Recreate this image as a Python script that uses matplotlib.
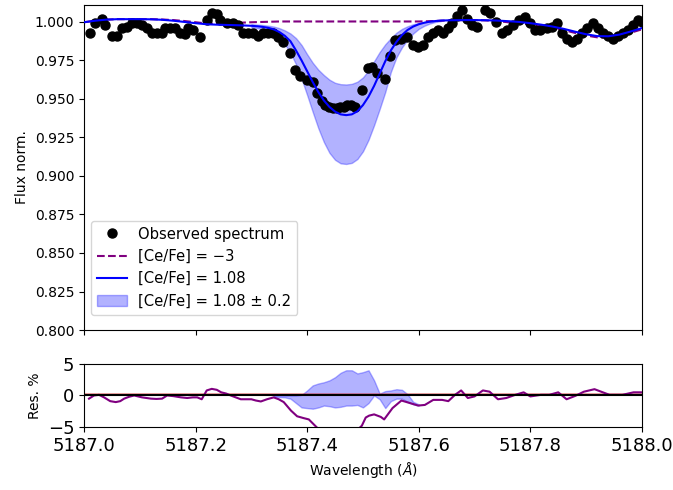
import numpy as np
import matplotlib
matplotlib.use('Agg')
import matplotlib.pyplot as plt

# observed spectrum
obs_wave = [5187.011, 5187.020, 5187.032, 5187.038, 5187.050, 5187.059, 5187.068, 5187.077,
            5187.086, 5187.095, 5187.104, 5187.113, 5187.122, 5187.131, 5187.140, 5187.145,
            5187.154, 5187.163, 5187.172, 5187.181, 5187.186, 5187.195, 5187.208, 5187.220,
            5187.229, 5187.238, 5187.244, 5187.256, 5187.267, 5187.276, 5187.285, 5187.294,
            5187.303, 5187.312, 5187.321, 5187.330, 5187.339, 5187.348, 5187.357, 5187.369,
            5187.378, 5187.387, 5187.400, 5187.410, 5187.418, 5187.427, 5187.432, 5187.440,
            5187.446, 5187.453, 5187.459, 5187.466, 5187.471, 5187.478, 5187.486, 5187.498,
            5187.509, 5187.516, 5187.525, 5187.539, 5187.548, 5187.557, 5187.568, 5187.579,
            5187.590, 5187.599, 5187.608, 5187.616, 5187.625, 5187.634, 5187.643, 5187.652,
            5187.659, 5187.668, 5187.677, 5187.686, 5187.695, 5187.704, 5187.719, 5187.728,
            5187.738, 5187.749, 5187.758, 5187.769, 5187.780, 5187.790, 5187.799, 5187.808,
            5187.817, 5187.830, 5187.839, 5187.848, 5187.857, 5187.866, 5187.875, 5187.884,
            5187.892, 5187.901, 5187.912, 5187.921, 5187.930, 5187.939, 5187.948, 5187.957,
            5187.966, 5187.975, 5187.984, 5187.993, 5188.000]
obs_flux = [0.9927, 0.999, 1.002, 0.998, 0.991, 0.991, 0.996, 0.9966,
            0.999, 0.999, 0.998, 0.996, 0.993, 0.993, 0.993, 0.996,
            0.996, 0.996, 0.993, 0.992, 0.996, 0.995, 0.990, 1.001,
            1.006, 1.005, 1.001, 0.999, 0.999, 0.998, 0.993, 0.993,
            0.993, 0.991, 0.993, 0.993, 0.993, 0.990, 0.987, 0.980,
            0.969, 0.965, 0.962, 0.961, 0.954, 0.949, 0.946, 0.945,
            0.944, 0.944, 0.945, 0.945, 0.946, 0.946, 0.945, 0.956,
            0.970, 0.971, 0.967, 0.963, 0.978, 0.988, 0.989, 0.990,
            0.985, 0.984, 0.985, 0.990, 0.993, 0.995, 0.993, 0.996,
            0.999, 1.004, 1.0076, 1.002, 0.998, 0.997, 1.0076, 1.0056,
            1.000, 0.993, 0.9946, 0.998, 1.001, 1.003, 0.999, 0.9946,
            0.9946, 0.996, 0.9966, 0.999, 0.993, 0.989, 0.987, 0.989,
            0.993, 0.996, 0.999, 0.996, 0.993, 0.991, 0.989, 0.991,
            0.993, 0.9946, 0.998, 1.001, 1.000]

# synthetic spectra
model_wave = [5187.00, 5187.02, 5187.04, 5187.06, 5187.08, 5187.10, 5187.12, 5187.14,
              5187.16, 5187.18, 5187.20, 5187.22, 5187.24, 5187.26, 5187.28,
              5187.30, 5187.31, 5187.32, 5187.33, 5187.34, 5187.35, 5187.36, 5187.37,
              5187.38, 5187.39, 5187.40, 5187.41, 5187.42, 5187.43, 5187.44, 5187.45,
              5187.46, 5187.47, 5187.48, 5187.49, 5187.50, 5187.51, 5187.52, 5187.53,
              5187.54, 5187.55, 5187.56, 5187.57, 5187.58, 5187.59, 5187.60, 5187.61,
              5187.62, 5187.63, 5187.64,
              5187.66, 5187.68, 5187.70, 5187.72, 5187.74, 5187.76, 5187.78, 5187.80,
              5187.82, 5187.84, 5187.86, 5187.88, 5187.90, 5187.92, 5187.94, 5187.96,
              5187.98, 5188.00]
flux_ce_m3 = [0.9998, 1.0008, 1.0015, 1.0018, 1.0018, 1.0018, 1.0018, 1.0016,
              1.0012, 1.0006, 0.9998, 0.9990, 0.9988, 0.9990, 0.9995,
              0.9998, 0.9999, 1.0000, 1.0001, 1.0002, 1.0003, 1.0003, 1.0003,
              1.0003, 1.0003, 1.0003, 1.0003, 1.0003, 1.0003, 1.0003, 1.0003,
              1.0003, 1.0003, 1.0003, 1.0003, 1.0003, 1.0003, 1.0003, 1.0003,
              1.0003, 1.0003, 1.0003, 1.0003, 1.0003, 1.0003, 1.0003, 1.0004,
              1.0005, 1.0006, 1.0008,
              1.0010, 1.0012, 1.0012, 1.0010, 1.0006, 0.9998, 0.9992, 0.9984,
              0.9974, 0.9962, 0.9947, 0.9929, 0.9912, 0.9900, 0.9899, 0.9910,
              0.9930, 0.9952]
flux_best = [0.9998, 1.0008, 1.0015, 1.0018, 1.0018, 1.0018, 1.0017, 1.0014,
             1.0008, 1.0000, 0.9992, 0.9985, 0.9982, 0.9980, 0.9978,
             0.9975, 0.9972, 0.9968, 0.9962, 0.9952, 0.9935, 0.9910, 0.9875,
             0.9815, 0.9750, 0.9680, 0.9610, 0.9545, 0.9490, 0.9448, 0.9418,
             0.9400, 0.9395, 0.9400, 0.9420, 0.9460, 0.9515, 0.9585, 0.9665,
             0.9745, 0.9815, 0.9870, 0.9915, 0.9948, 0.9970, 0.9985, 0.9995,
             1.0002, 1.0006, 1.0009,
             1.0011, 1.0012, 1.0012, 1.0011, 1.0009, 1.0005, 1.0000, 0.9992,
             0.9982, 0.9970, 0.9955, 0.9937, 0.9920, 0.9908, 0.9907, 0.9918,
             0.9938, 0.9960]

# band [Ce/Fe] = 1.08 +/- 0.2
band_wave = [5187.30, 5187.31, 5187.32, 5187.33, 5187.34, 5187.35, 5187.36, 5187.37,
             5187.38, 5187.39, 5187.40, 5187.41, 5187.42, 5187.43, 5187.44, 5187.45,
             5187.46, 5187.47, 5187.48, 5187.49, 5187.50, 5187.51, 5187.52, 5187.53,
             5187.54, 5187.55, 5187.56, 5187.57, 5187.58, 5187.59, 5187.60, 5187.61,
             5187.62, 5187.63, 5187.64]
band_hi = [0.9985, 0.9983, 0.9980, 0.9976, 0.9970, 0.9960, 0.9945, 0.9925,
           0.9895, 0.9850, 0.9790, 0.9735, 0.9690, 0.9655, 0.9625, 0.9605,
           0.9596, 0.9594, 0.9598, 0.9612, 0.9640, 0.9685, 0.9745, 0.9805,
           0.9855, 0.9895, 0.9930, 0.9955, 0.9972, 0.9985, 0.9993, 0.9999,
           1.0003, 1.0006, 1.0009]
band_lo = [0.9965, 0.9960, 0.9952, 0.9940, 0.9922, 0.9895, 0.9855, 0.9800,
           0.9725, 0.9630, 0.9525, 0.9415, 0.9310, 0.9220, 0.9150, 0.9105,
           0.9082, 0.9078, 0.9085, 0.9110, 0.9160, 0.9235, 0.9330, 0.9435,
           0.9545, 0.9675, 0.9770, 0.9835, 0.9885, 0.9925, 0.9955, 0.9975,
           0.9990, 1.0000, 1.0006]

# residuals (%)
res_wave = [5187.009, 5187.018, 5187.027, 5187.036, 5187.047, 5187.057, 5187.065, 5187.072,
            5187.081, 5187.090, 5187.104, 5187.120, 5187.130, 5187.140, 5187.149, 5187.160,
            5187.174, 5187.185, 5187.195, 5187.203, 5187.211, 5187.220, 5187.229, 5187.238,
            5187.246, 5187.255, 5187.263, 5187.272, 5187.281, 5187.290, 5187.300, 5187.308,
            5187.317, 5187.328, 5187.340, 5187.349, 5187.358, 5187.371, 5187.382, 5187.394,
            5187.403, 5187.412, 5187.420, 5187.440, 5187.460, 5187.480, 5187.492, 5187.498,
            5187.505, 5187.511, 5187.520, 5187.532, 5187.538, 5187.553, 5187.569, 5187.584,
            5187.599, 5187.611, 5187.626, 5187.642, 5187.653, 5187.665, 5187.676, 5187.688,
            5187.700, 5187.715, 5187.727, 5187.742, 5187.757, 5187.773, 5187.788, 5187.800,
            5187.819, 5187.834, 5187.850, 5187.865, 5187.881, 5187.896, 5187.915, 5187.927,
            5187.942, 5187.965, 5187.985, 5188.000]
res_ce_m3 = [-0.5, 0.0, 0.1, -0.3, -0.9, -1.05, -0.9, -0.5,
             -0.2, 0.0, -0.3, -0.5, -0.55, -0.5, 0.0, -0.1,
             -0.3, -0.4, -0.3, -0.3, -0.6, 0.8, 1.05, 0.9,
             0.5, 0.3, 0.0, -0.3, -0.6, -0.6, -0.6, -0.8,
             -0.95, -0.6, -0.3, -0.6, -1.05, -2.4, -3.3, -3.6,
             -3.8, -4.6, -5.3, -5.6, -5.5, -5.4, -5.3, -4.8,
             -3.5, -3.2, -3.0, -3.4, -3.8, -2.0, -0.8, -1.2,
             -1.6, -1.5, -0.7, -0.7, -0.9, 0.1, 0.8, -0.4,
             -0.15, 0.8, 0.6, -0.6, -0.4, 0.1, 0.5, -0.15,
             0.1, 0.1, 0.5, -0.6, -0.05, 0.6, 1.0, 0.6,
             0.1, 0.1, 0.5, 0.5]

res_band_wave = [5187.34, 5187.36, 5187.37, 5187.38, 5187.39, 5187.40, 5187.41, 5187.42,
                 5187.43, 5187.44, 5187.45, 5187.46, 5187.47, 5187.48, 5187.49, 5187.50,
                 5187.51, 5187.52, 5187.53, 5187.54, 5187.55, 5187.56, 5187.57, 5187.58,
                 5187.59, 5187.60]
res_band_lo = [-0.2, -0.3, -0.5, -1.2, -1.9, -2.0, -2.1, -1.9,
               -1.6, -1.7, -1.9, -1.8, -1.6, -1.6, -1.5, -1.9,
               -1.2, 0.0, -0.6, -2.0, -0.9, -0.5, -0.5, -1.0,
               -1.4, -1.6]
res_band_hi = [0.0, 0.0, 0.0, 0.0, 0.1, 0.8, 1.6, 1.9,
               2.1, 2.4, 2.9, 3.6, 4.0, 4.0, 3.5, 3.7,
               4.0, 2.4, 0.3, 0.7, 0.8, 1.0, 0.9, 0.2,
               -1.0, -1.4]

fig = plt.figure(figsize=(6.73, 4.9), dpi=100)
ax = fig.add_axes([0.1248, 0.3265, 0.829, 0.6633])
ax_res = fig.add_axes([0.1248, 0.1286, 0.829, 0.1286])

ax.plot(obs_wave, obs_flux, 'o', color='black', ms=6.5, label='Observed spectrum', zorder=3)
ax.plot(model_wave, flux_ce_m3, '--', color='purple', lw=1.5, label='[Ce/Fe] = \u22123')
ax.plot(model_wave, flux_best, '-', color='blue', lw=1.5, label='[Ce/Fe] = 1.08', zorder=4)
ax.fill_between(band_wave, band_lo, band_hi, color='blue', alpha=0.3,
                label='[Ce/Fe] = 1.08 \u00b1 0.2')
ax.set_xlim(5187.0, 5188.0)
ax.set_ylim(0.8, 1.011)
ax.set_ylabel('Flux norm.')
ax.set_xticks([5187.0, 5187.2, 5187.4, 5187.6, 5187.8, 5188.0])
ax.set_xticklabels([])
ax.set_yticks([0.8, 0.825, 0.85, 0.875, 0.9, 0.925, 0.95, 0.975, 1.0])
ax.legend(loc='lower left', bbox_to_anchor=(0.0, 0.025), fontsize=10.6)

ax_res.fill_between(res_band_wave, res_band_lo, res_band_hi, color='blue', alpha=0.3)
ax_res.axhline(0.2, color='tab:red', alpha=0.5, lw=1.2)
ax_res.plot(res_wave, res_ce_m3, color='purple', lw=1.5)
ax_res.axhline(0, color='black', lw=1.5)
ax_res.set_xlim(5187.0, 5188.0)
ax_res.set_ylim(-5, 5)
ax_res.set_yticks([-5, 0, 5])
ax_res.set_xticks([5187.0, 5187.2, 5187.4, 5187.6, 5187.8, 5188.0])
ax_res.tick_params(labelsize=13)
ax_res.set_ylabel('Res. %')
ax_res.set_xlabel(r'Wavelength ($\AA$)')

fig.savefig('out.png', dpi=100)
